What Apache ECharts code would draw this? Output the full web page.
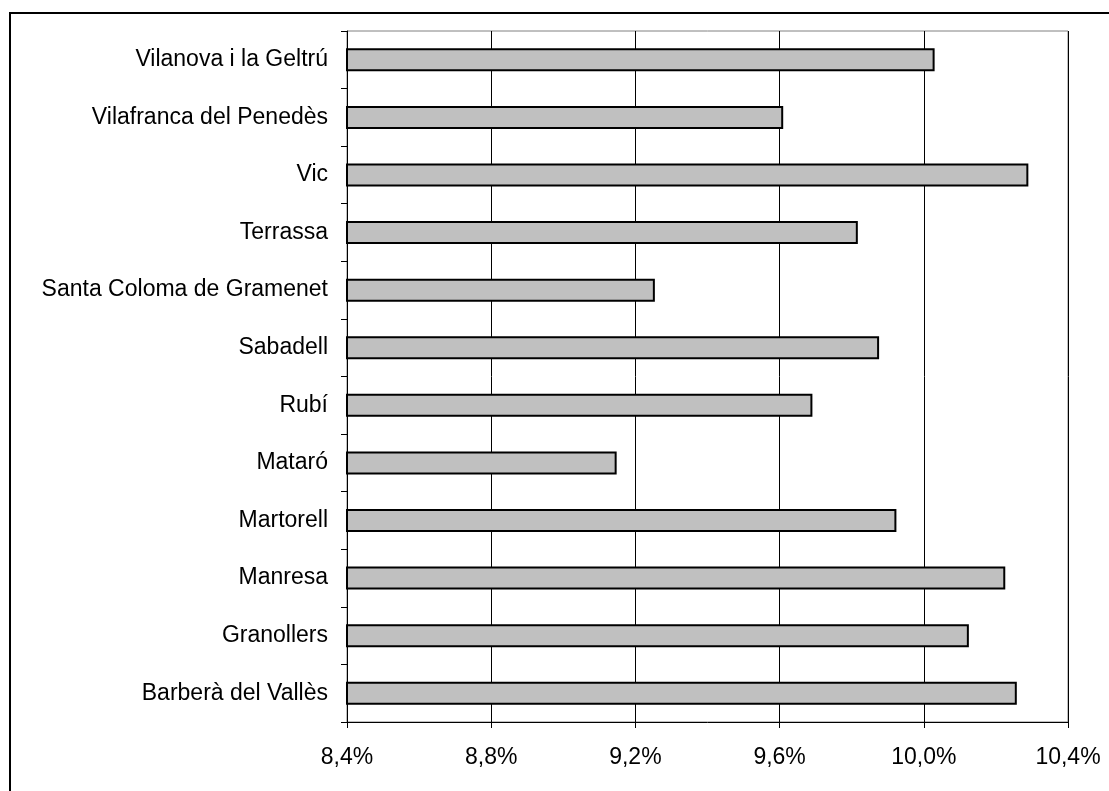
<!DOCTYPE html>
<html>
<head>
<meta charset="utf-8">
<script src="https://cdn.jsdelivr.net/npm/echarts@6/dist/echarts.min.js"></script>
<style>
html,body{margin:0;padding:0;background:#fff;}
#frame{position:absolute;left:9px;top:12px;width:1120px;height:800px;border:2px solid #000;box-sizing:border-box;}
#chart{position:absolute;left:0;top:0;width:1109px;height:791px;}
</style>
</head>
<body>
<div id="frame"></div>
<div id="chart"></div>
<script>
const categories = ["Barberà del Vallès","Granollers","Manresa","Martorell","Mataró","Rubí","Sabadell","Santa Coloma de Gramenet","Terrassa","Vic","Vilafranca del Penedès","Vilanova i la Geltrú"];
const values = [10.258, 10.125, 10.226, 9.924, 9.148, 9.691, 9.876, 9.254, 9.817, 10.29, 9.61, 10.03];
const xTickLabels = ["8,4%","8,8%","9,2%","9,6%","10,0%","10,4%"];
const xMin = 8.4, xMax = 10.4, xStep = 0.4;

const chart = echarts.init(document.getElementById('chart'), null, {renderer:'canvas'});
chart.setOption({
  animation:false,
  backgroundColor:'transparent',
  grid:{left:347, top:31, width:721, height:691, show:true, borderColor:'#808080', borderWidth:1, backgroundColor:'transparent'},
  xAxis:{
    type:'value', min:xMin, max:xMax, interval:xStep,
    axisLine:{show:true, lineStyle:{color:'#000', width:1}},
    axisTick:{show:true, inside:false, length:6, lineStyle:{color:'#000'}},
    splitLine:{show:true, lineStyle:{color:'#000', width:1}},
    axisLabel:{
      margin:24, color:'#000', fontFamily:'Liberation Sans, Arial', fontSize:23,
      formatter:function(v){
        const i = Math.round((v - xMin)/xStep);
        return xTickLabels[i] !== undefined ? xTickLabels[i] : '';
      }
    }
  },
  yAxis:{
    type:'category', data:categories,
    axisLine:{show:true, lineStyle:{color:'#000', width:1}},
    axisTick:{show:true, length:6, lineStyle:{color:'#000'}},
    splitLine:{show:false},
    axisLabel:{margin:19, color:'#000', fontFamily:'Liberation Sans, Arial', fontSize:23}
  },
  series:[{
    type:'bar', data:values, barWidth:23,
    itemStyle:{color:'#C0C0C0', borderColor:'#000', borderWidth:2},
    emphasis:{disabled:true}
  }]
});
</script>
</body>
</html>
